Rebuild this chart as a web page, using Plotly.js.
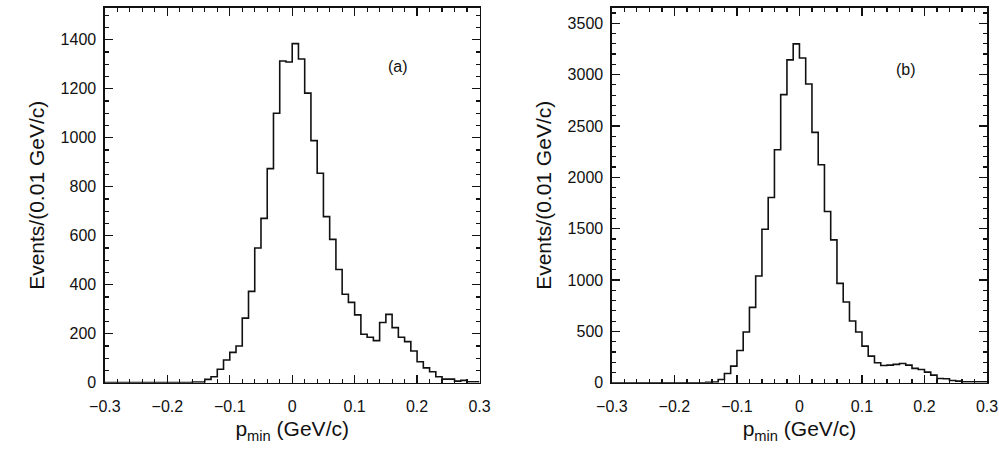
<!DOCTYPE html>
<html><head><script src="https://cdn.plot.ly/plotly-3.0.1.min.js"></script></head>
<body style="margin:0"><div id="c" style="width:999px;height:459px"></div>
<script>
const binStart = -0.3, binWidth = 0.01;
const countsA = [1,1,1,1,1,1,1,1,1,1,1,1,1,1,3,3,14,25,55,93,124,150,264,373,550,671,874,1100,1313,1309,
 1384,1321,1182,988,855,678,585,462,361,328,277,198,186,172,246,279,225,186,168,130,86,61,45,25,15,15,7,10,4,4];
const countsB = [0,0,0,0,0,0,0,0,0,0,0,0,0,0,0,5,8,32,91,162,315,494,734,1040,1495,1804,2268,2805,3143,3299,
 3162,2908,2437,2122,1667,1391,968,786,601,494,357,260,195,169,172,179,188,172,140,130,104,75,42,39,23,16,10,10,10,10];
function step(c, xa, ya){
  const x=[], y=[];
  for(let i=0;i<c.length;i++){x.push(binStart+i*binWidth); y.push(c[i]);}
  x.push(binStart+c.length*binWidth); y.push(c[c.length-1]);
  return {x, y, type:'scatter', mode:'lines', line:{shape:'hv', color:'#111', width:1.6}, xaxis:xa, yaxis:ya, hoverinfo:'none'};
}
const F = 'Liberation Sans, Arial, sans-serif';
function ax(extra){
  return Object.assign({showgrid:false, zeroline:false, ticks:'inside', mirror:'allticks', showline:true,
    linecolor:'#111', linewidth:1.5, ticklen:8, tickwidth:1.2, tickcolor:'#111',
    tickfont:{family:F, size:16, color:'#111'}}, extra);
}
const xt = {text:'p<sub>min</sub> (GeV/c)', font:{family:F, size:21, color:'#111'}, standoff:8};
const yt = {text:'Events/(0.01 GeV/c)', font:{family:F, size:21, color:'#111'}, standoff:10};
const layout = {
  width:999, height:459, showlegend:false, paper_bgcolor:'white', plot_bgcolor:'white',
  margin:{l:0,r:0,t:0,b:0},
  xaxis: ax({domain:[0.105,0.48], range:[-0.3,0.3], dtick:0.1, tick0:-0.3, ticklabelstandoff:8, minor:{ticks:'inside', ticklen:4, tickcolor:'#111', dtick:0.02}, title:xt, anchor:'y'}),
  yaxis: ax({domain:[0.166,0.983], range:[0,1530], dtick:200, ticklabelstandoff:4, minor:{ticks:'inside', ticklen:4, tickcolor:'#111', dtick:50}, title:yt, anchor:'x'}),
  xaxis2: ax({domain:[0.6125,0.988], range:[-0.3,0.3], dtick:0.1, tick0:-0.3, ticklabelstandoff:8, minor:{ticks:'inside', ticklen:4, tickcolor:'#111', dtick:0.02}, title:xt, anchor:'y2'}),
  yaxis2: ax({domain:[0.166,0.983], range:[0,3650], dtick:500, ticklabelstandoff:4, minor:{ticks:'inside', ticklen:4, tickcolor:'#111', dtick:100}, title:yt, anchor:'x2'}),
  annotations:[
    {xref:'x', yref:'y', x:0.17, y:1290, text:'(a)', showarrow:false, font:{family:F, size:16, color:'#111'}},
    {xref:'x2', yref:'y2', x:0.17, y:3050, text:'(b)', showarrow:false, font:{family:F, size:16, color:'#111'}}
  ]
};
Plotly.newPlot('c', [step(countsA,'x','y'), step(countsB,'x2','y2')], layout, {staticPlot:true});
</script></body></html>
